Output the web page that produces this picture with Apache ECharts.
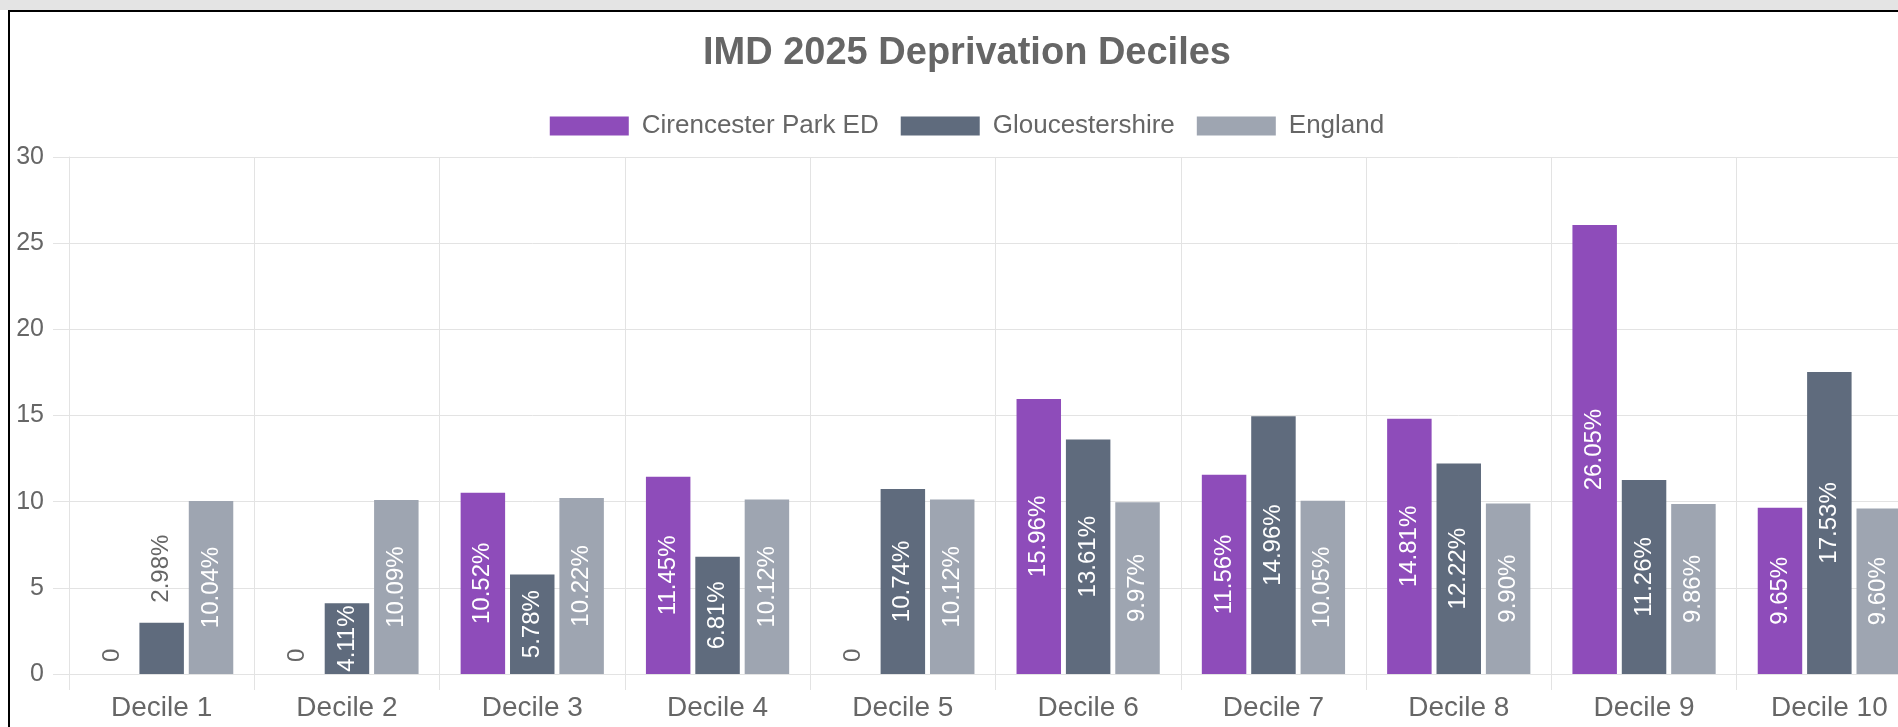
<!DOCTYPE html>
<html>
<head>
<meta charset="utf-8">
<script src="https://cdn.jsdelivr.net/npm/echarts@6/dist/echarts.min.js"></script>
<style>
    html, body { margin: 0; padding: 0; background: #fff; overflow: hidden; }
    #topband { position: absolute; left: 0; top: 0; width: 1898px; height: 10px; background: #e4e4e4; }
    #frame { position: absolute; left: 8px; top: 10px; width: 1900px; height: 727px;
             border-left: 2px solid #000; border-top: 2px solid #000; }
    #chart { position: absolute; left: 0; top: 0; width: 1934px; height: 727px; }
</style>
</head>
<body>
<div id="topband"></div>
<div id="frame"></div>
<div id="chart"></div>
<script>
var categories = ['Decile 1', 'Decile 2', 'Decile 3', 'Decile 4', 'Decile 5',
                  'Decile 6', 'Decile 7', 'Decile 8', 'Decile 9', 'Decile 10'];
var cirencester = [0, 0, 10.52, 11.45, 0, 15.96, 11.56, 14.81, 26.05, 9.65];
var gloucestershire = [2.98, 4.11, 5.78, 6.81, 10.74, 13.61, 14.96, 12.22, 11.26, 17.53];
var england = [10.04, 10.09, 10.22, 10.12, 10.12, 9.97, 10.05, 9.90, 9.86, 9.60];
var seriesNames = ['Cirencester Park ED', 'Gloucestershire', 'England'];
var colors = ['#8e4cba', '#5f6b7d', '#9ea5b1'];

var FONT = '"Liberation Sans", Arial, sans-serif';

/**
 * Builds bar data with a label per bar: small values get a grey label
 * above the bar, the rest a white label centred inside it.
 */
function barData(values) {
    return values.map(function (v) {
        var text = v === 0 ? '0' : v.toFixed(2) + '%';
        if (v < 3.5) {
            return {
                value: v,
                label: {
                    show: true, position: 'top', rotate: 90, align: 'left', verticalAlign: 'middle',
                    distance: v === 0 ? 12 : 20, color: '#666', fontSize: 24, fontFamily: FONT,
                    formatter: text
                }
            };
        }
        return {
            value: v,
            label: {
                show: true, position: 'inside', rotate: 90, align: 'center', verticalAlign: 'middle',
                color: '#fff', fontSize: 24, fontFamily: FONT, formatter: text
            }
        };
    });
}

var chart = echarts.init(document.getElementById('chart'));

var options = {
    animation: false,
    color: colors,
    title: {
        text: 'IMD 2025 Deprivation Deciles',
        left: 'center',
        top: 35,
        padding: 0,
        textStyle: { fontSize: 38, fontWeight: 'bold', color: '#666', fontFamily: FONT }
    },
    legend: {
        data: seriesNames,
        left: 'center',
        top: 113,
        padding: 0,
        icon: 'rect',
        itemWidth: 79,
        itemHeight: 19,
        itemGap: 22,
        textStyle: { fontSize: 26, color: '#666', fontFamily: FONT, padding: [0, 0, 0, 8] }
    },
    grid: {
        left: 69,
        top: 157,
        width: 1853,
        bottom: 53,
        containLabel: false
    },
    xAxis: {
        type: 'category',
        data: categories,
        boundaryGap: true,
        axisLine: { show: true, lineStyle: { color: '#e3e3e3', width: 1 } },
        axisTick: { show: true, length: 16, lineStyle: { color: '#e3e3e3' } },
        splitLine: { show: true, lineStyle: { color: '#e3e3e3' } },
        axisLabel: { fontSize: 28, color: '#666', fontFamily: FONT, margin: 20 }
    },
    yAxis: {
        type: 'value',
        min: 0,
        max: 30,
        interval: 5,
        axisLine: { show: true, lineStyle: { color: '#e3e3e3' } },
        axisTick: { show: true, length: 16, lineStyle: { color: '#e3e3e3' } },
        splitLine: { show: true, lineStyle: { color: '#e3e3e3' } },
        axisLabel: { fontSize: 25, color: '#666', fontFamily: FONT, margin: 25 }
    },
    series: [
        {
            name: seriesNames[0],
            type: 'bar',
            barCategoryGap: '22.7%',
            barGap: '11%',
            data: barData(cirencester)
        },
        {
            name: seriesNames[1],
            type: 'bar',
            barCategoryGap: '22.7%',
            barGap: '11%',
            data: barData(gloucestershire)
        },
        {
            name: seriesNames[2],
            type: 'bar',
            barCategoryGap: '22.7%',
            barGap: '11%',
            data: barData(england)
        }
    ]
};

chart.setOption(options);
</script>
</body>
</html>
